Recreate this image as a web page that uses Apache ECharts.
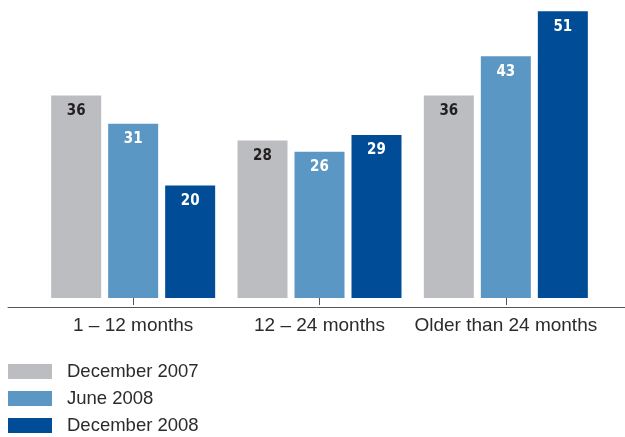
<!DOCTYPE html>
<html><head><meta charset="utf-8">
<script src="https://cdn.jsdelivr.net/npm/echarts@6/dist/echarts.min.js"></script>
<style>html,body{margin:0;padding:0;background:#fff}#c{width:625px;height:437px}</style>
</head><body><div id="c"></div>
<script>
const categories = ['1 – 12 months', '12 – 24 months', 'Older than 24 months'];
const seriesNames = ['December 2007', 'June 2008', 'December 2008'];
const dec2007 = [36, 28, 36];
const jun2008 = [31, 26, 43];
const dec2008 = [20, 29, 51];

const colors = ['#bcbdc1', '#5b97c4', '#004c97'];
const labelColors = ['#231f20', '#ffffff', '#ffffff'];
const values = [dec2007, jun2008, dec2008];

const chart = echarts.init(document.getElementById('c'));
chart.setOption({
  animation: false,
  grid: [
    {left: 40, right: 26, top: 0, bottom: 130},
    {left: 8, right: 0, top: 0, bottom: 130}
  ],
  legend: {
    orient: 'vertical', left: 8, top: 362, icon: 'rect', padding: 0,
    height: 80,
    itemWidth: 44, itemHeight: 15, itemGap: 8,
    data: seriesNames,
    textStyle: {fontFamily: 'Liberation Sans', fontSize: 18.5, color: '#2b2b2b', padding: [0, 0, 0, 10]}
  },
  xAxis: [
    {type: 'category', gridIndex: 0, data: categories,
     axisLine: {show: false},
     axisTick: {show: true, alignWithLabel: true, length: 7, lineStyle: {color: '#555'}},
     axisLabel: {interval: 0, margin: 9, fontFamily: 'Liberation Sans', fontSize: 19, color: '#2b2b2b'}},
    {type: 'value', gridIndex: 1, min: 0, max: 1,
     axisLine: {show: true, onZero: false, lineStyle: {color: '#555', width: 1}},
     axisTick: {show: false}, axisLabel: {show: false}, splitLine: {show: false}}
  ],
  yAxis: [
    {type: 'value', gridIndex: 0, min: -1.6, max: 53, show: false, splitLine: {show: false}},
    {type: 'value', gridIndex: 1, min: 0, max: 1, show: false, splitLine: {show: false}}
  ],
  series: seriesNames.map((n, i) => ({
    name: n, type: 'bar', xAxisIndex: 0, yAxisIndex: 0,
    data: values[i], barWidth: 50, barGap: '14%',
    itemStyle: {color: colors[i]},
    label: {show: true, position: 'insideTop', distance: 8,
      fontFamily: 'DejaVu Sans Condensed', fontWeight: 'bold', fontSize: 15, color: labelColors[i]}
  }))
});
</script></body></html>
